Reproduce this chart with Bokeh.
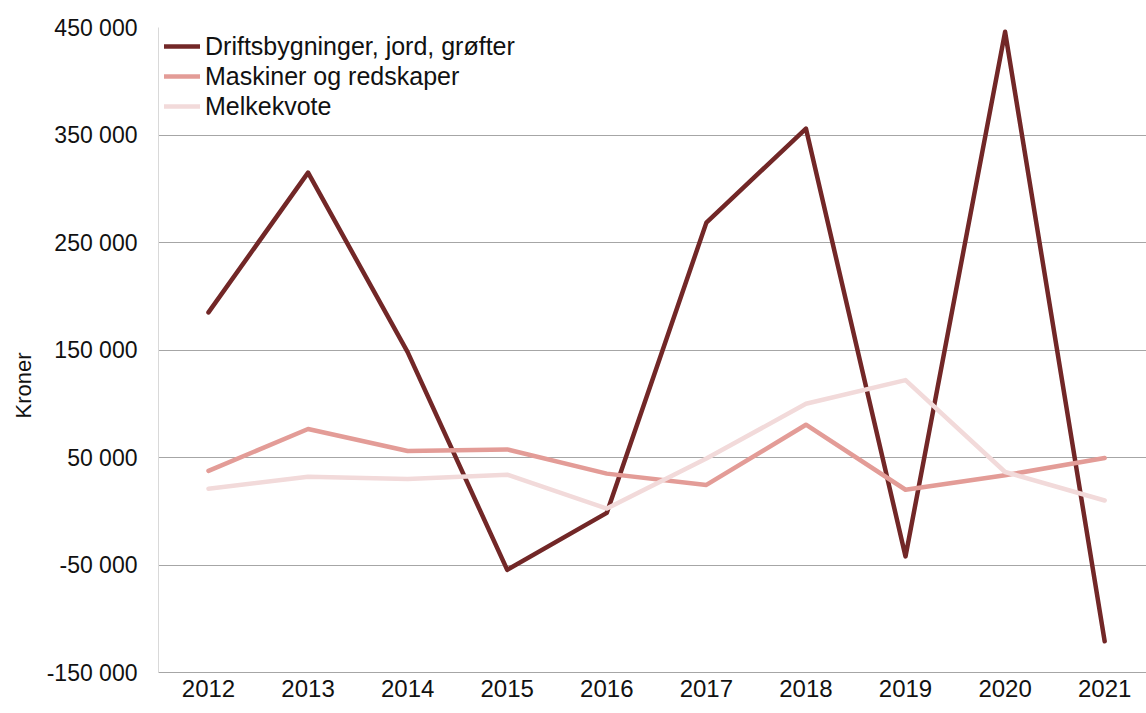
from bokeh.plotting import figure
from bokeh.models import Range1d, FixedTicker, Legend, LegendItem, Title
from bokeh.embed import file_html
from bokeh.resources import INLINE

years = [2012, 2013, 2014, 2015, 2016, 2017, 2018, 2019, 2020, 2021]
driftsbygninger = [185000, 315000, 148000, -54500, -1500, 268500, 356000, -42000, 446000, -121000]
maskiner = [37500, 76500, 56000, 57500, 35000, 24500, 80500, 20000, 33500, 49500]
melkekvote = [21000, 32000, 30000, 34000, 2500, 49000, 100000, 122000, 36500, 10000]

series_names = ["Driftsbygninger, jord, grøfter", "Maskiner og redskaper", "Melkekvote"]
series_colors = ["#722727", "#E39C97", "#F2DADA"]

y_ticks = [-150000, -50000, 50000, 150000, 250000, 350000, 450000]
y_tick_labels = ["-150 000", "-50 000", "50 000", "150 000", "250 000", "350 000", "450 000"]
y_title = "Kroner"

FONT = "Liberation Sans"

p = figure(width=1146, height=705, output_backend="svg", toolbar_location=None,
           x_range=Range1d(2011.498, 2021.42), y_range=Range1d(-150000, 450000),
           min_border_left=158, min_border_top=27, min_border_bottom=33, min_border_right=0)
p.outline_line_color = None
p.background_fill_color = "white"

renderers = []
for vals, col in zip([driftsbygninger, maskiner, melkekvote], series_colors):
    r = p.line(years, vals, line_color=col, line_width=4.5, line_join="round", line_cap="round")
    renderers.append(r)

yax = p.yaxis[0]
yax.ticker = FixedTicker(ticks=y_ticks)
yax.major_label_overrides = {t: l for t, l in zip(y_ticks, y_tick_labels)}
yax.major_tick_line_color = None
yax.minor_tick_line_color = None
yax.major_tick_out = 0
yax.major_label_standoff = 21
yax.axis_line_color = "#D9D9D9"
yax.major_label_text_font = FONT
yax.major_label_text_font_size = "23px"
yax.major_label_text_color = "#111111"

# y-axis title, placed like the reference (below the frame centre)
ytitle = Title(text=y_title, align="left", offset=254, text_font=FONT,
               text_font_size="22px", text_font_style="normal", text_color="#111111",
               standoff=15)
p.add_layout(ytitle, "left")

xax = p.xaxis[0]
xax.ticker = FixedTicker(ticks=years)
xax.major_tick_line_color = None
xax.minor_tick_line_color = None
xax.major_tick_out = 0
xax.major_label_standoff = 7
xax.axis_line_color = "#A6A6A6"
xax.major_label_text_font = FONT
xax.major_label_text_font_size = "24px"
xax.major_label_text_color = "#111111"

p.xgrid.grid_line_color = None
p.ygrid.ticker = FixedTicker(ticks=y_ticks)
p.ygrid.grid_line_color = "#A6A6A6"
p.ygrid.grid_line_width = 1

legend = Legend(items=[LegendItem(label=n, renderers=[r]) for n, r in zip(series_names, renderers)],
                location=(6, 551), margin=0, padding=0, spacing=0,
                label_height=30, glyph_height=30, glyph_width=36, label_standoff=5,
                label_text_font=FONT, label_text_font_size="25px", label_text_color="#111111",
                background_fill_alpha=0, border_line_color=None)
p.add_layout(legend, "center")

open("out.html", "w").write(file_html(p, INLINE))
